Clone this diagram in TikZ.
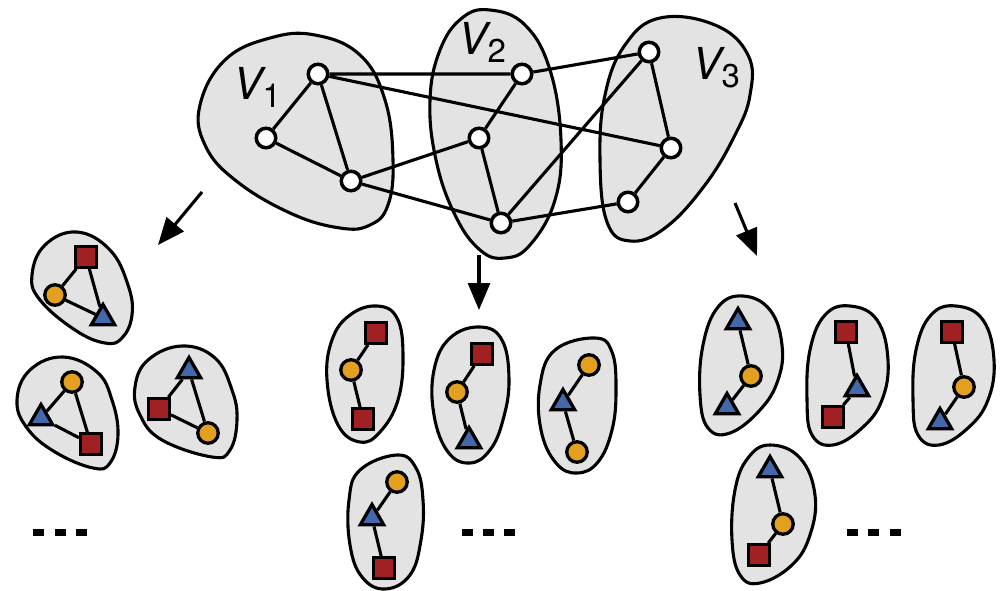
\documentclass[tikz,border=0pt]{standalone}
\usepackage{fontspec}
\setmainfont{TeX Gyre Heros}
\usetikzlibrary{shapes.geometric,arrows.meta}
\definecolor{blobgray}{RGB}{227,227,227}
\definecolor{sqred}{RGB}{160,32,36}
\definecolor{ciorange}{RGB}{227,160,32}
\definecolor{trblue}{RGB}{68,104,172}
\begin{document}
\begin{tikzpicture}[x=1pt,y=-1pt,
  blob/.style={fill=blobgray,draw=black,line width=3.1pt},
  vnode/.style={circle,draw=black,fill=white,line width=3.5pt,minimum size=19.5pt,inner sep=0pt},
  sq/.style={rectangle,draw=black,fill=sqred,line width=3.3pt,minimum size=20.5pt,inner sep=0pt},
  ci/.style={circle,draw=black,fill=ciorange,line width=3.3pt,minimum size=20.5pt,inner sep=0pt},
  tr/.style={regular polygon,regular polygon sides=3,draw=black,fill=trblue,line width=3.3pt,minimum size=27pt,inner sep=0pt},
  edge/.style={line width=3.1pt},
  arr/.style={line width=3.1pt,-{Triangle[length=27pt,width=22pt]}},
  lbl/.style={anchor=base west,inner sep=0pt,font=\fontsize{44}{44}\selectfont\itshape}
]
\useasboundingbox (0,0) rectangle (1002,591);

% ---------- big blobs ----------
\draw[blob] plot[smooth cycle,tension=0.7] coordinates {(200,105) (225,60) (270,38) (315,35) (360,55) (385,100) (393,160) (388,205) (370,225) (340,228) (290,213) (235,180) (205,145)};
\draw[blob] plot[smooth cycle,tension=0.7] coordinates {(490,10) (525,25) (550,70) (561,140) (555,200) (530,245) (505,258) (480,250) (455,215) (436,160) (430,100) (440,50) (462,18)};
\draw[blob] plot[smooth cycle,tension=0.7] coordinates {(660,18) (715,25) (748,55) (750,95) (735,135) (705,185) (665,228) (630,241) (607,222) (600,160) (605,95) (625,45)};

% ---------- labels ----------
\node[lbl] (lv1) at (233,100) {V\raisebox{-8pt}{\fontsize{33}{33}\selectfont\upshape 1}};
\node[lbl] (lv2) at (458,55) {V\raisebox{-8pt}{\fontsize{33}{33}\selectfont\upshape 2}};
\node[lbl] (lv3) at (692,80) {V\raisebox{-8pt}{\fontsize{33}{33}\selectfont\upshape 3}};

% ---------- top graph ----------
\node[vnode] (a1) at (318,74) {};
\node[vnode] (a2) at (266,138) {};
\node[vnode] (a3) at (351,181) {};
\node[vnode] (b1) at (522,74) {};
\node[vnode] (b2) at (479,138) {};
\node[vnode] (b3) at (501,223) {};
\node[vnode] (c1) at (649,52) {};
\node[vnode] (c2) at (671,148) {};
\node[vnode] (c3) at (628,202) {};
\draw[edge] (a1)--(a2) (a2)--(a3) (a1)--(a3) (a1)--(b1) (a1)--(c2)
  (a3)--(b2) (a3)--(b3) (b1)--(b2) (b2)--(b3) (b1)--(c1) (b3)--(c1)
  (b3)--(c3) (c1)--(c2) (c2)--(c3);

% ---------- arrows ----------
\coordinate (l0) at (202,192); \coordinate (l1) at (158,245);
\coordinate (m0) at (479,255); \coordinate (m1) at (479,310);
\coordinate (r0) at (735,203); \coordinate (r1) at (757,256);
\draw[arr] (l0)--(l1);
\draw[arr] (m0)--(m1);
\draw[arr] (r0)--(r1);

% ---------- left clusters ----------
\draw[blob] plot[smooth cycle,tension=0.7] coordinates {(77,232) (110,250) (128,285) (132,315) (122,338) (105,343) (75,330) (40,300) (32,275) (45,245)};
\draw[blob] plot[smooth cycle,tension=0.7] coordinates {(63,357) (97,372) (112,400) (118,435) (110,463) (93,468) (55,452) (27,428) (17,400) (30,370)};
\draw[blob] plot[smooth cycle,tension=0.7] coordinates {(182,346) (215,358) (232,390) (237,420) (230,450) (212,457) (162,440) (140,415) (135,387) (148,360)};
\node[sq] (l1s) at (86,257) {};
\node[ci] (l1c) at (55,295) {};
\node[tr] (l1t) at (103,318) {};
\node[ci] (l2c) at (72,382) {};
\node[tr] (l2t) at (41,418) {};
\node[sq] (l2s) at (91,444) {};
\node[tr] (l3t) at (189,371) {};
\node[sq] (l3s) at (159,409) {};
\node[ci] (l3c) at (208,433) {};
\draw[edge] (l1s)--(l1c) (l1c)--(l1t) (l1s)--(l1t);
\draw[edge] (l2c)--(l2t) (l2t)--(l2s) (l2c)--(l2s);
\draw[edge] (l3t)--(l3s) (l3s)--(l3c) (l3t)--(l3c);

% ---------- middle clusters ----------
\draw[blob] plot[smooth cycle,tension=0.7] coordinates {(377,306) (397,318) (403,355) (398,400) (380,432) (360,442) (338,425) (327,380) (332,340) (350,315)};
\draw[blob] plot[smooth cycle,tension=0.7] coordinates {(480,327) (502,340) (509,380) (503,420) (490,450) (470,463) (448,452) (434,415) (434,370) (450,338)};
\draw[blob] plot[smooth cycle,tension=0.7] coordinates {(595,338) (612,352) (616,390) (612,430) (598,462) (577,473) (556,463) (541,430) (540,385) (555,350)};
\draw[blob] plot[smooth cycle,tension=0.7] coordinates {(397,455) (416,468) (423,500) (421,540) (410,575) (385,589) (362,577) (350,545) (349,500) (360,470)};
\node[sq] (m1a) at (376,333) {};
\node[ci] (m1b) at (351,370) {};
\node[sq] (m1c) at (363,419) {};
\node[sq] (m2a) at (482,354) {};
\node[ci] (m2b) at (457,392) {};
\node[tr] (m2c) at (469,441) {};
\node[ci] (m3a) at (589,365) {};
\node[tr] (m3b) at (563,403) {};
\node[ci] (m3c) at (577,452) {};
\node[ci] (m4a) at (397,482) {};
\node[tr] (m4b) at (372,518) {};
\node[sq] (m4c) at (384,568) {};
\draw[edge] (m1a)--(m1b) (m1b)--(m1c);
\draw[edge] (m2a)--(m2b) (m2b)--(m2c);
\draw[edge] (m3a)--(m3b) (m3b)--(m3c);
\draw[edge] (m4a)--(m4b) (m4b)--(m4c);

% ---------- right clusters ----------
\draw[blob] plot[smooth cycle,tension=0.7] coordinates {(743,296) (770,310) (782,345) (778,380) (760,410) (730,433) (708,428) (700,395) (703,345) (718,307)};
\draw[blob] plot[smooth cycle,tension=0.7] coordinates {(850,306) (877,320) (888,360) (882,400) (862,428) (833,445) (812,435) (807,400) (810,350) (825,315)};
\draw[blob] plot[smooth cycle,tension=0.7] coordinates {(956,306) (983,320) (994,360) (988,400) (968,428) (939,445) (918,435) (913,400) (916,350) (931,315)};
\draw[blob] plot[smooth cycle,tension=0.7] coordinates {(770,445) (800,458) (815,495) (810,535) (792,565) (760,583) (740,575) (732,540) (735,490) (748,458)};
\node[tr] (r1a) at (738,322) {};
\node[ci] (r1b) at (751,376) {};
\node[tr] (r1c) at (727,407) {};
\node[sq] (r2a) at (846,332) {};
\node[tr] (r2b) at (857,389) {};
\node[sq] (r2c) at (833,417) {};
\node[sq] (r3a) at (952,332) {};
\node[ci] (r3b) at (964,387) {};
\node[tr] (r3c) at (940,422) {};
\node[tr] (r4a) at (770,470) {};
\node[ci] (r4b) at (783,524) {};
\node[sq] (r4c) at (759,555) {};
\draw[edge] (r1a)--(r1b) (r1b)--(r1c);
\draw[edge] (r2a)--(r2b) (r2b)--(r2c);
\draw[edge] (r3a)--(r3b) (r3b)--(r3c);
\draw[edge] (r4a)--(r4b) (r4b)--(r4c);

% ---------- dots ----------
\foreach \x in {33,55,76} {\fill (\x,529) rectangle ++(11,7);}
\foreach \x in {462,483,504} {\fill (\x,529) rectangle ++(11,7);}
\foreach \x in {847,868,890} {\fill (\x,529) rectangle ++(11,7);}
\end{tikzpicture}
\end{document}
